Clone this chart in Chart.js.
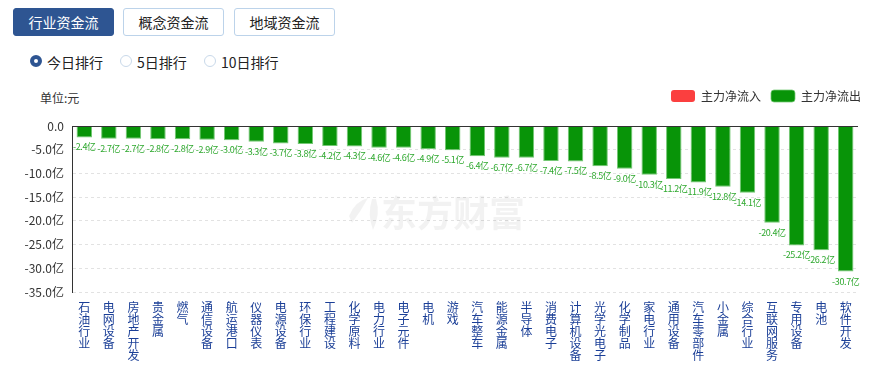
<!DOCTYPE html>
<html>
<head>
<meta charset="utf-8">
<script src="https://cdn.jsdelivr.net/npm/chart.js@4"></script>
<style>
  body { margin: 0; background: #fff; font-family: "Microsoft YaHei", "Noto Sans CJK SC", sans-serif; }
  #wrap { position: relative; width: 871px; height: 367px; overflow: hidden; }
  .tab { position: absolute; top: 8px; height: 28px; width: 101px; box-sizing: border-box;
         border: 1px solid #bcd3ea; border-radius: 3px; font-size: 14px; line-height: 26px;
         text-align: center; color: #222; background: #fff; }
  .tab.on { background: #2e5592; border-color: #2e5592; color: #fff; }
  .radio { position: absolute; top: 53px; font-size: 14px; color: #222; line-height: 18px; }
  .radio i { position: absolute; left: 0; top: 2px; width: 12px; height: 12px; border-radius: 50%;
             border: 1px solid #c9d9ea; box-sizing: border-box; }
  .radio.on i { border: 4px solid #2e5592; }
  .radio span { position: absolute; left: 17px; white-space: nowrap; }
  #unit { position: absolute; left: 40px; top: 89px; font-size: 12px; color: #333; }
  #chart { position: absolute; left: 0; top: 80px; }
</style>
</head>
<body>
<div id="wrap">
  <div class="tab on" style="left:13px">行业资金流</div>
  <div class="tab" style="left:123px">概念资金流</div>
  <div class="tab" style="left:234px">地域资金流</div>
  <div class="radio on" style="left:30px"><i></i><span>今日排行</span></div>
  <div class="radio" style="left:120px"><i></i><span>5日排行</span></div>
  <div class="radio" style="left:204px"><i></i><span>10日排行</span></div>
  <div id="unit">单位:元</div>
  <canvas id="chart" width="871" height="287"></canvas>
</div>
<script>
// industries, sorted by main net outflow (亿元)
const industries = ["石油行业", "电网设备", "房地产开发", "贵金属", "燃气", "通信设备", "航运港口", "仪器仪表",
  "电源设备", "环保行业", "工程建设", "化学原料", "电力行业", "电子元件", "电机", "游戏",
  "汽车整车", "能源金属", "半导体", "消费电子", "计算机设备", "光学光电子", "化学制品", "家电行业",
  "通用设备", "汽车零部件", "小金属", "综合行业", "互联网服务", "专用设备", "电池", "软件开发"];
const netOutflow = [-2.4, -2.7, -2.7, -2.8, -2.8, -2.9, -3.0, -3.3, -3.7, -3.8, -4.2, -4.3, -4.6, -4.6, -4.9, -5.1,
  -6.4, -6.7, -6.7, -7.4, -7.5, -8.5, -9.0, -10.3, -11.2, -11.9, -12.8, -14.1, -20.4, -25.2, -26.2, -30.7];
const netInflow = industries.map(() => null);
const yTicks = [0, -5, -10, -15, -20, -25, -30, -35];

const RED = "#fb3f3f";
const GREEN = "#089408";

// legend spacing, faint watermark, solid zero line, value labels
const extras = {
  id: "extras",
  beforeInit(chart) {
    const fit = chart.legend.fit;
    chart.legend.fit = function () { fit.call(this); this.height += 14; };
  },
  afterLayout(chart) {
    chart.legend.left += 13;
    chart.legend.right += 13;
  },
  beforeDatasetsDraw(chart) {
    const { ctx } = chart;
    ctx.save();
    ctx.fillStyle = "rgba(0,0,0,0.05)";
    // logo strokes
    ctx.beginPath();
    ctx.moveTo(349, 136);
    ctx.quadraticCurveTo(355, 121, 368, 118);
    ctx.quadraticCurveTo(361, 131, 352, 143);
    ctx.closePath();
    ctx.fill();
    ctx.beginPath();
    ctx.moveTo(372, 119);
    ctx.quadraticCurveTo(367, 135, 373, 150);
    ctx.quadraticCurveTo(381, 134, 376, 119);
    ctx.closePath();
    ctx.fill();
    ctx.font = "bold 36px 'Microsoft YaHei','Noto Sans CJK SC'";
    ctx.textAlign = "center";
    ctx.textBaseline = "middle";
    ctx.fillText("东方财富", 453, 133);
    ctx.restore();
  },
  afterDatasetsDraw(chart) {
    const { ctx, chartArea, scales } = chart;
    const y0 = Math.round(scales.y.getPixelForValue(0)) + 0.5;
    ctx.save();
    ctx.strokeStyle = "#333";
    ctx.lineWidth = 1;
    ctx.beginPath();
    ctx.moveTo(chartArea.left, y0);
    ctx.lineTo(chartArea.right, y0);
    ctx.stroke();
    const meta = chart.getDatasetMeta(1);
    ctx.fillStyle = "#2ea82e";
    ctx.font = "9px 'Microsoft YaHei','Noto Sans CJK SC'";
    ctx.letterSpacing = "-0.4px";
    ctx.textAlign = "center";
    ctx.textBaseline = "top";
    meta.data.forEach((bar, i) => {
      ctx.fillText(netOutflow[i].toFixed(1) + "亿", bar.x, bar.y + 5);
    });
    ctx.restore();
  }
};

new Chart(document.getElementById("chart"), {
  type: "bar",
  data: {
    labels: industries.map(s => s.split("")),
    datasets: [
      { label: "主力净流入", data: netInflow, backgroundColor: RED, borderColor: RED },
      { label: "主力净流出", data: netOutflow, backgroundColor: GREEN,
        borderColor: "#74c874", borderWidth: { top: 0, left: 1, right: 1, bottom: 1 }, borderSkipped: false }
    ]
  },
  options: {
    responsive: false,
    animation: false,
    layout: { padding: { left: 0, right: 13, top: 0, bottom: 5 } },
    datasets: { bar: { grouped: false, barPercentage: 0.63, categoryPercentage: 1 } },
    plugins: {
      tooltip: { enabled: false },
      legend: {
        position: "top",
        align: "end",
        labels: {
          boxWidth: 24, boxHeight: 12, useBorderRadius: true, borderRadius: 3,
          color: "#333", padding: 10,
          font: { size: 12, family: "'Microsoft YaHei','Noto Sans CJK SC'" }
        }
      }
    },
    scales: {
      x: {
        grid: { display: false },
        border: { display: false },
        ticks: {
          autoSkip: false, maxRotation: 0, minRotation: 0, padding: 1,
          color: "#1b3f97",
          font: { size: 12, lineHeight: 1.0, family: "'Microsoft YaHei','Noto Sans CJK SC'" }
        }
      },
      y: {
        min: -35, max: 0,
        afterFit(scale) { scale.width = 72; },
        afterBuildTicks(scale) { scale.ticks = yTicks.map(v => ({ value: v })); },
        border: { display: true, color: "#333", width: 1, dash: [3, 3] },
        grid: { color: ctx => ctx.tick && ctx.tick.value === 0 ? "rgba(0,0,0,0)" : "#e2e2e2", drawTicks: false },
        ticks: {
          autoSkip: false, padding: 8, color: "#333",
          font: { size: 12, family: "'Microsoft YaHei','Noto Sans CJK SC'" },
          callback: v => v === 0 ? "0.0" : v.toFixed(1) + "亿"
        }
      }
    }
  },
  plugins: [extras]
});
</script>
</body>
</html>
